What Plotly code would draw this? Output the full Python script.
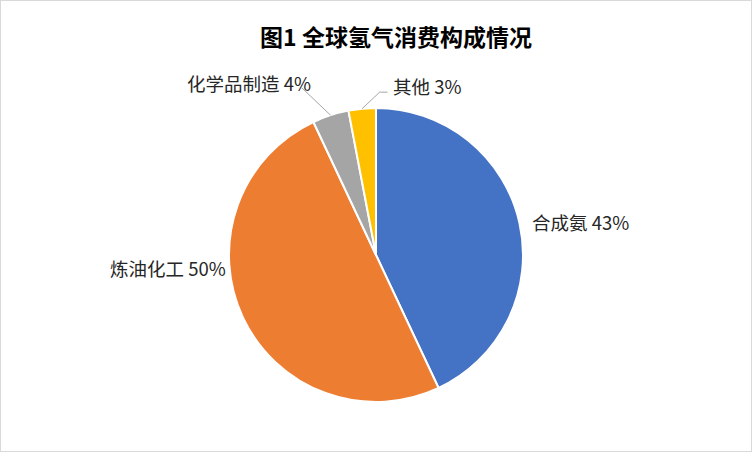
import math
import plotly.graph_objects as go

categories = ["合成氨", "炼油化工", "化学品制造", "其他"]
values = [43, 50, 4, 3]
colors = ["#4472C4", "#ED7D31", "#A5A5A5", "#FFC000"]
title_text = "图1 全球氢气消费构成情况"

W, H = 752, 452
cx, cy, r = 376, 255, 147

# label placement style (pixel offsets from slice edge midpoint), Excel-like
label_style = [
    dict(xanchor="left", dx=10.5, dy=-1, leader=None),
    dict(xanchor="right", dx=-15, dy=-50, leader=None),
    dict(xanchor="right", dx=-18, dy=-32, leader=[(-28.6, -27.2)]),
    dict(xanchor="left", dx=29, dy=-22.5, leader=[(17.5, -16.5), (25.5, -16.5)]),
]

font_family = "Microsoft YaHei, Noto Sans CJK SC, sans-serif"

fig = go.Figure(go.Pie(
    labels=categories,
    values=values,
    sort=False,
    direction="clockwise",
    rotation=0,
    marker=dict(colors=colors, line=dict(color="white", width=2)),
    textinfo="none",
    domain=dict(x=[(cx - r) / W, (cx + r) / W], y=[(H - cy - r) / H, (H - cy + r) / H]),
    showlegend=False,
    hoverinfo="label+percent",
))

total = sum(values)
annotations = []
shapes = [dict(type="rect", xref="paper", yref="paper", x0=0, x1=1, y0=0, y1=1,
               line=dict(color="#D9D9D9", width=2), fillcolor="rgba(0,0,0,0)")]

cum = 0
for cat, val, st in zip(categories, values, label_style):
    mid = (cum + val / 2) / total
    cum += val
    theta = 2 * math.pi * mid
    ex = cx + r * math.sin(theta)
    ey = cy - r * math.cos(theta)
    pct = round(100 * val / total)
    annotations.append(dict(
        x=(ex + st["dx"]) / W, y=1 - (ey + st["dy"]) / H, xref="paper", yref="paper",
        text=f"{cat} {pct}%", showarrow=False, xanchor=st["xanchor"], yanchor="middle",
        font=dict(family=font_family, size=18.5, color="#262626"),
    ))
    if st["leader"]:
        pts = [(ex, ey)] + [(ex + ox, ey + oy) for ox, oy in st["leader"]]
        path = "M " + " L ".join(f"{px / W},{1 - py / H}" for px, py in pts)
        shapes.append(dict(type="path", xref="paper", yref="paper", path=path,
                           line=dict(color="#A6A6A6", width=1)))

fig.update_layout(
    width=W, height=H,
    margin=dict(l=0, r=0, t=0, b=0),
    paper_bgcolor="white",
    title=dict(text="<b>" + title_text + "</b>", x=396 / W, xanchor="center", y=1 - 38 / H, yanchor="middle",
               yref="container", font=dict(family=font_family, size=23, color="#000000")),
    annotations=annotations,
    shapes=shapes,
)

fig.write_html("out.html")
